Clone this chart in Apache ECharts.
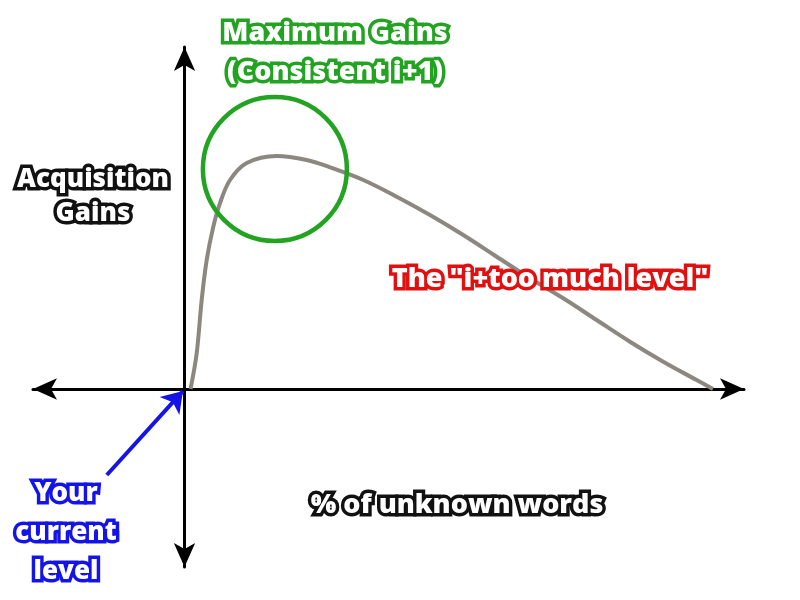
<!DOCTYPE html>
<html>
<head>
<meta charset="utf-8">
<script src="https://cdn.jsdelivr.net/npm/echarts@6/dist/echarts.min.js"></script>
<style>html,body{margin:0;padding:0;background:#fff}#main{width:800px;height:600px}</style>
</head>
<body>
<div id="main"></div>
<script>
// % of unknown words (0 = your current level, 100 = end of curve)
const curveX = [1.14, 2.31, 3.25, 4.2, 5.45, 6.72, 8.61, 11.77, 17.45, 23.12, 27.53, 33.83, 40.15, 46.45, 52.75, 59.07, 65.37, 71.67, 77.99, 84.29, 90.59, 96.91, 100];
// acquisition gains (peak = 100)
const curveY = [0, 15.5, 38.2, 55.4, 69.7, 79.8, 89.7, 97.0, 100, 98.3, 95.15, 89.7, 82.53, 74.68, 66.09, 56.78, 47.51, 38.93, 29.61, 20.3, 11.72, 3.86, 0];
// highlight circle centre (max gains region)
const circleCenter = [17.1, 94.4];
// pointer arrow to "your current level"
const arrowFrom = [-14.7, -36.9];
const arrowTo = [-0.3, -0.9];
// texts
const titleLines = ['Maximum Gains', '(Consistent i+1)'];
const yAxisLines = ['Acquisition', 'Gains'];
const xAxisText = '% of unknown words';
const tooMuchText = 'The "i+too much level"';
const levelLines = ['Your', 'current', 'level'];

const chart = echarts.init(document.getElementById('main'));
const FONT = '"Open Sans", "DejaVu Sans", sans-serif';
function outlined(text, x, y, stroke, size, lh) {
  return {
    type: 'text', z: 100,
    style: {
      text: text, x: x, y: y, align: 'center', verticalAlign: 'middle',
      fill: '#ffffff', stroke: stroke, lineWidth: 7, lineJoin: 'round',
      fontFamily: FONT, fontWeight: 800, fontSize: size, lineHeight: lh
    }
  };
}
const axisCommon = {
  type: 'value',
  axisLine: { show: true, onZero: true, symbol: ['arrow', 'arrow'], symbolSize: [16, 24],
    lineStyle: { color: '#000', width: 3 } },
  axisTick: { show: false }, axisLabel: { show: false }, splitLine: { show: false }
};
chart.setOption({
  animation: false,
  backgroundColor: '#ffffff',
  grid: { left: 33, right: 56, top: 47, bottom: 33, containLabel: false },
  xAxis: Object.assign({}, axisCommon, { min: -28.67, max: 105.87 }),
  yAxis: Object.assign({}, axisCommon, { min: -76.39, max: 146.78 }),
  series: [
    {
      type: 'line', smooth: 0.35, symbol: 'none', z: 3,
      data: curveX.map((x, i) => [x, curveY[i]]),
      lineStyle: { color: '#8c877f', width: 4 }
    },
    {
      type: 'scatter', z: 4, symbol: 'circle', symbolSize: 144,
      data: [circleCenter],
      itemStyle: { color: 'rgba(0,0,0,0)', borderColor: '#22a322', borderWidth: 4.5, opacity: 1 }
    },
    {
      type: 'lines', coordinateSystem: 'cartesian2d', z: 5,
      symbol: ['none', 'arrow'], symbolSize: 20,
      data: [{ coords: [arrowFrom, arrowTo] }],
      lineStyle: { color: '#1414e6', width: 4, opacity: 1 }
    }
  ],
  graphic: [
    outlined(titleLines.join('\n'), 335, 53, '#22a322', 27, 39),
    outlined(yAxisLines.join('\n'), 93, 197, '#111111', 26, 34),
    outlined(tooMuchText, 550, 279, '#e01010', 27, 34),
    outlined(xAxisText, 457, 505, '#111111', 27, 34),
    outlined(levelLines.join('\n'), 66, 533, '#1414e6', 26, 39)
  ]
});
</script>
</body>
</html>
